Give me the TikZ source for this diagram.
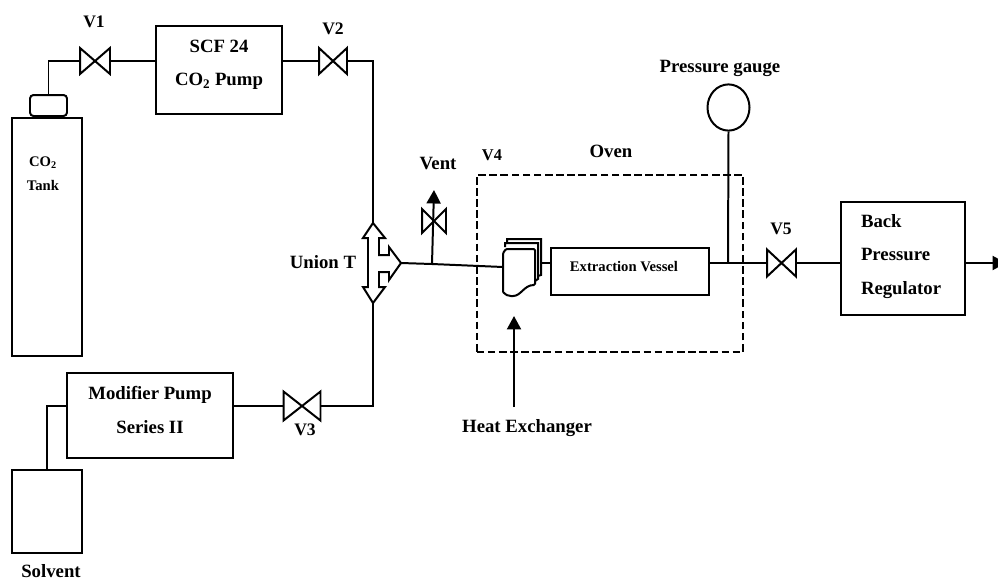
\documentclass[tikz,border=0pt]{standalone}
\usepackage{fontspec}
\setmainfont{Liberation Serif}
\usetikzlibrary{arrows.meta}

\tikzset{
    unit/.style={draw,line width=1.7pt,inner sep=0pt,minimum width=#1},
    valve/.style 2 args={inner sep=0pt,minimum width=#1*0.03cm,minimum height=#2*0.03cm},
    lbl/.style={font=\bfseries\fontsize{16}{28.5}\selectfont,align=center,inner sep=0pt},
    smalllbl/.style={font=\bfseries\fontsize{12.5}{20.5}\selectfont,align=center,inner sep=0pt},
    flowtip/.style={-{Triangle[length=11.5pt,width=12pt]}},
}

\begin{document}
\begin{tikzpicture}[x=0.03cm,y=-0.03cm,line width=1.7pt]

\path[use as bounding box,clip] (0,0) rectangle (998,581);

%% Tank and solvent
\node[unit=2.1cm,minimum height=7.14cm,anchor=north west] (tank) at (11,117) {};
\node[unit=1.11cm,minimum height=0.63cm,anchor=south,rounded corners=3pt] (cap) at (48.5,117) {};
\node[smalllbl] (tanklabel) at (43,174) {CO\textsubscript{2}\\Tank};
\node[unit=2.1cm,minimum height=2.49cm,anchor=north west] (solvent) at (11,469) {};
\node[lbl] (solventlabel) at (51,571) {Solvent};

%% Pumps
\node[unit=3.78cm,minimum height=2.64cm] (pump) at (219,70) {};
\node[lbl] (pumplabel) at (219,65) {SCF 24\\CO\textsubscript{2} Pump};
\node[unit=4.98cm,minimum height=2.55cm] (modifier) at (150,415.5) {};
\node[lbl] (modifierlabel) at (150,410) {Modifier Pump\\Series II};

%% Valves
\node[valve={28}{24}] (v1) at (95,61) {};
\node[valve={26}{24}] (v2) at (333,61) {};
\node[valve={35}{27}] (v3) at (302,406) {};
\node[valve={27}{25}] (v5) at (781.5,263) {};
\node[valve={22}{22}] (ventvalve) at (434,221) {};
\foreach \v in {v1,v2,v3,v5,ventvalve}{
    \draw (\v.north west) -- (\v.south east) -- (\v.north east) -- (\v.south west) -- cycle;
}
\node[lbl,font=\bfseries\fontsize{15}{18}\selectfont] (v1label) at (94,22) {V1};
\node[lbl,font=\bfseries\fontsize{15}{18}\selectfont] (v2label) at (333,29) {V2};
\node[lbl,font=\bfseries\fontsize{15}{18}\selectfont] (v3label) at (305,430) {V3};
\node[lbl,font=\bfseries\fontsize{14}{18}\selectfont] (v4label) at (492,155) {V4};
\node[lbl,font=\bfseries\fontsize{15}{18}\selectfont] (v5label) at (781,229) {V5};
\node[lbl] (ventlabel) at (438,164) {Vent};

%% Union T
\coordinate (teetop) at (373,223);
\coordinate (teebot) at (373,303);
\coordinate (teetip) at (401,263);
\draw[line join=miter] (teetop) -- (385,238) -- (379,238) -- (379,255) -- (389,255) -- (389,247)
    -- (teetip) -- (389,280) -- (389,272) -- (379,272) -- (379,287) -- (385,287)
    -- (teebot) -- (363,287) -- (368,287) -- (368,238) -- (363,238) -- cycle;
\node[lbl] (teelabel) at (323,262) {Union T};

%% Oven
\node[draw,dash pattern=on 6.5pt off 3pt,line width=1.7pt,minimum width=8cm,minimum height=5.31cm,inner sep=0pt] (oven) at (610,263.5) {};
\node[lbl] (ovenlabel) at (611,151) {Oven};

%% Heat exchanger
\draw[fill=white] (507,243) -- (507,239) -- (541,239) -- (541,275) -- (535,277);
\draw[fill=white] (505,247) -- (505,243) -- (538,243) -- (538,279) -- (535,281);
\draw[fill=white,rounded corners=1pt] (503,292) -- (503,253) -- (506,249) -- (535,249) -- (535,285)
    .. controls (524,285) and (521,296) .. (512,296) .. controls (508,296) and (506,295) .. (503,292);
\coordinate (hxin) at (503,267);
\coordinate (hxout) at (541,263);
\coordinate (hxtail) at (514,407);
\coordinate (hxhead) at (514,316);
\draw[flowtip] (hxtail) -- (hxhead);
\node[lbl] (hxlabel) at (527,428) {Heat Exchanger};

%% Extraction vessel and gauge
\node[unit=4.74cm,minimum height=1.41cm] (vessel) at (630,271.5) {};
\node[smalllbl] (vessellabel) at (624,267) {Extraction Vessel};
\node[draw,circle,inner sep=0pt,minimum size=1.26cm,yscale=1.1] (gauge) at (728.5,107.5) {};
\node[lbl] (gaugelabel) at (720,68) {Pressure gauge};

%% Regulator
\node[unit=3.72cm,minimum height=3.39cm] (bpr) at (903,258.5) {};
\node[lbl,align=left,anchor=west] (bprlabel) at (860,256.5) {Back\\Pressure\\Regulator};

%% Lines
\coordinate (ventjoin) at (432,264);
\coordinate (venttip) at (434,190);
\coordinate (gaugejoin) at (728,263);
\coordinate (outlet) at (1006,263);
\draw (cap.north) -- (cap.north |- v1.west) -- (v1.west);
\draw (v1.east) -- (pump.west |- v1.east);
\draw (pump.east |- v2.west) -- (v2.west);
\draw (v2.east) -- (teetop |- v2.east) -- (teetop);
\draw (modifier.west |- v3.west) -- (solvent.north |- v3.west) -- (solvent.north);
\draw (modifier.east |- v3.west) -- (v3.west);
\draw (v3.east) -- (teebot |- v3.east) -- (teebot);
\draw (teetip) -- (ventjoin) -- (hxin);
\draw[flowtip] (ventjoin) -- (venttip);
\draw (hxout) -- (vessel.west |- hxout);
\draw (vessel.east |- v5.west) -- (v5.west);
\draw (v5.east) -- (bpr.west |- v5.east);
\draw (gauge.south) -- (gaugejoin);
\draw[flowtip] (bpr.east |- outlet) -- (outlet);

\end{tikzpicture}
\end{document}
